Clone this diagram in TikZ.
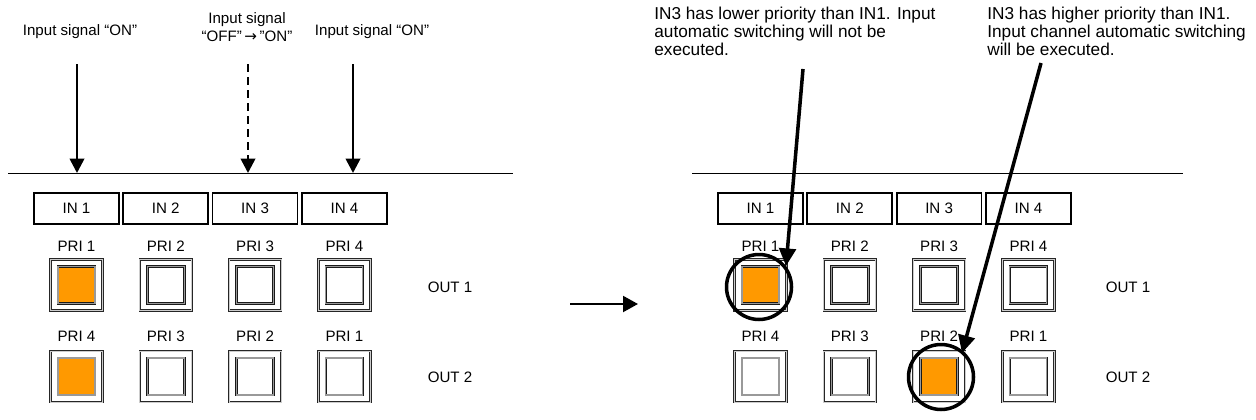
\documentclass[tikz,border=0pt]{standalone}
\usepackage{fontspec}
\setmainfont{Liberation Sans}
\newfontfamily\arrowfont{DejaVu Sans}
\usetikzlibrary{arrows.meta,positioning}
\definecolor{lamp}{RGB}{255,153,0}

\begin{document}
\begin{tikzpicture}[x=0.02cm, y=-0.02cm,
    inbox/.style={draw, line width=1pt, minimum width=1.7cm, minimum height=0.62cm, inner sep=0pt, font=\fontsize{8.6}{10}\selectfont},
    prilabel/.style={inner sep=0pt, font=\fontsize{8.6}{10}\selectfont},
    outlabel/.style={inner sep=0pt, font=\fontsize{8.6}{10}\selectfont},
    keyframe/.style={draw=black!85, double=black!20, double distance=0.5pt, line width=0.45pt, fill=white, minimum width=1.04cm, minimum height=1.02cm, inner sep=0pt},
    keylamp/.style={draw=black!90, double=black!40, double distance=0.6pt, line width=0.45pt, minimum size=0.74cm, inner sep=0pt},
    note/.style={inner sep=0pt, align=center, font=\fontsize{8.6}{10.5}\selectfont},
    remark/.style={inner sep=0pt, align=left, anchor=north west, font=\fontsize{9.8}{8.9}\selectfont},
    sigarrow/.style={-{Triangle[length=8.2pt,width=8.2pt]}, line width=1.5pt},
    callout/.style={-{Triangle[length=10pt,width=9.5pt]}, line width=2pt},
    ring/.style={draw, circle, line width=2pt, minimum size=1.3cm, inner sep=0pt}
  ]
  \useasboundingbox (0,0) rectangle (1256,419);

  % two panels: before / after
  \foreach \p/\dx/\la/\lb/\ox in {a/0/1/1/450, b/684/1/3/1128} {
    \foreach \i in {1,...,4} {
      \pgfmathsetmacro\cx{76.5+\dx+89.3*(\i-1)}
      \pgfmathtruncatemacro\j{5-\i}
      \node[inbox] (\p-in\i) at (\cx,208.5) {IN \i};
      \node[prilabel] (\p-pri1\i) at (\cx,246) {PRI \i};
      \node[prilabel] (\p-pri2\i) at (\cx,336) {PRI \j};
      \ifnum\i=\la \def\fc{lamp}\else\def\fc{white}\fi
      \node[keyframe] (\p-key1\i) at (\cx,285) {};
      \node[keylamp, fill=\fc] (\p-lamp1\i) at (\p-key1\i) {};
      \ifnum\i=\lb \def\fc{lamp}\else\def\fc{white}\fi
      \node[keyframe] (\p-key2\i) at (\cx,376.5) {};
      \node[keylamp, fill=\fc] (\p-lamp2\i) at (\p-key2\i) {};
    }
    \node[outlabel] (\p-out1) at (\ox,287) {OUT 1};
    \node[outlabel] (\p-out2) at (\ox,377) {OUT 2};
  }

  % input bus lines
  \coordinate (a-bl) at (8,173);
  \coordinate (a-br) at (513,173);
  \coordinate (b-bl) at (692,173);
  \coordinate (b-br) at (1183,173);
  \draw[line width=0.5pt] (a-bl) -- (a-br);
  \draw[line width=0.5pt] (b-bl) -- (b-br);

  % input signals
  \node[note] (sig1) at (80,32) {Input signal “ON”};
  \node[note] (sig3) at (247,27) {Input signal\\“OFF”\,{\arrowfont→}\,”ON”};
  \node[note] (sig4) at (372,32) {Input signal “ON”};
  \coordinate (s1) at (77,64);
  \coordinate (s3) at (248,64);
  \coordinate (s4) at (353,64);
  \coordinate (e1) at (77,173);
  \coordinate (e3) at (248,173);
  \coordinate (e4) at (353,173);
  \draw[sigarrow] (s1) -- (e1);
  \draw[sigarrow, dash pattern=on 4.6pt off 2.8pt] (s3) -- (e3);
  \draw[sigarrow] (s4) -- (e4);

  % before -> after
  \coordinate (m1) at (570,304);
  \coordinate (m2) at (638,304);
  \draw[-{Triangle[length=8.5pt,width=9pt]}, line width=1.4pt] (m1) -- (m2);

  % remarks
  \node[remark] (rem1) at (654,7) {IN3 has lower priority than IN1. Input\\automatic switching will not be\\executed.};
  \node[remark] (rem2) at (987,7) {IN3 has higher priority than IN1.\\Input channel automatic switching\\will be executed.};
  \node[ring] (ring1) at (759,287) {};
  \node[ring] (ring2) at (941,377) {};
  \coordinate (c1) at (803,69);
  \coordinate (t1) at (786,266);
  \coordinate (c2) at (1041,63);
  \coordinate (t2) at (962,353);
  \draw[callout] (c1) -- (t1);
  \draw[callout] (c2) -- (t2);
\end{tikzpicture}
\end{document}
